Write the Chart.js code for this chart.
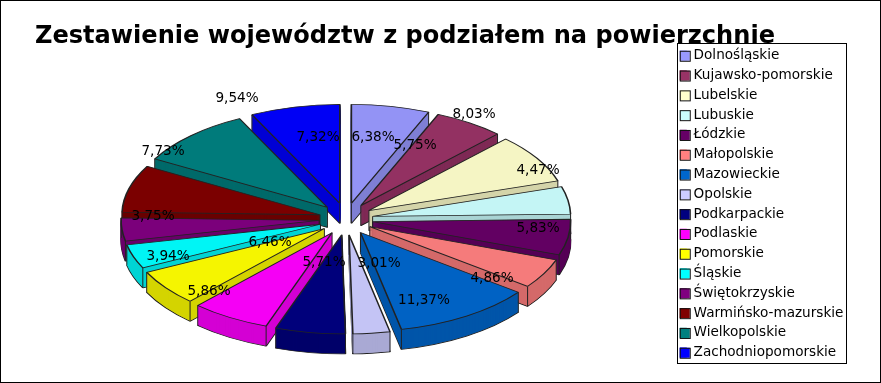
<!DOCTYPE html>
<html lang="pl">
<head>
<meta charset="utf-8">
<title>Zestawienie województw</title>
<script src="https://cdn.jsdelivr.net/npm/chart.js"></script>
<style>
    html, body { margin: 0; padding: 0; background: #fff; }
    #wrap { position: relative; width: 881px; height: 383px; }
    #wrap:after { content: ""; position: absolute; left: 0; top: 0; right: 0; bottom: 0; border: 1px solid #000; pointer-events: none; }
    canvas { display: block; }
</style>
</head>
<body>
<div id="wrap"><canvas id="chart" width="881" height="383"></canvas></div>
<script>
    const chartTitle = 'Zestawienie województw z podziałem na powierzchnie';
    const regions = ['Dolnośląskie', 'Kujawsko-pomorskie', 'Lubelskie', 'Lubuskie', 'Łódzkie', 'Małopolskie',
        'Mazowieckie', 'Opolskie', 'Podkarpackie', 'Podlaskie', 'Pomorskie', 'Śląskie', 'Świętokrzyskie',
        'Warmińsko-mazurskie', 'Wielkopolskie', 'Zachodniopomorskie'];
    const shares = [6.38, 5.75, 8.03, 4.47, 5.83, 4.86, 11.37, 3.01, 5.71, 6.46, 5.86, 3.94, 3.75, 7.73, 9.54, 7.32];
    const colours = ['#9999ff', '#993366', '#ffffcc', '#ccffff', '#660066', '#ff8080', '#0066cc', '#ccccff',
        '#000080', '#ff00ff', '#ffff00', '#00ffff', '#800080', '#800000', '#008080', '#0000ff'];

    // the original puts its labels in odd places, so they are placed by hand
    const labelSpots = [[373, 137], [415, 145], [474, 114], [538, 170], [538, 228], [492, 278], [424, 300], [379, 263],
        [324, 262], [270, 242], [209, 291], [168, 256], [153, 216], [163, 151], [237, 98], [318, 137]];

    const view = { cx: 346, cy: 219, squash: 0.5, depth: 20, explodeX: 27, explodeY: 32, top: 0.96, side: 0.83 };

    function shade(hex, f) {
        const n = parseInt(hex.slice(1), 16);
        return 'rgb(' + [n >> 16, (n >> 8) & 255, n & 255].map(c => Math.round(c * f)).join(',') + ')';
    }

    // squashed, exploded pie with side walls, painted back to front
    const pie3d = {
        id: 'pie3d',
        beforeDatasetsDraw(chart) {
            const ctx = chart.ctx;
            const arcs = chart.getDatasetMeta(0).data.map((arc, i) => ({ arc, i }));
            arcs.sort((a, b) => Math.sin((a.arc.startAngle + a.arc.endAngle) / 2) - Math.sin((b.arc.startAngle + b.arc.endAngle) / 2));

            arcs.forEach(({ arc, i }) => {
                const mid = (arc.startAngle + arc.endAngle) / 2;
                const dx = view.cx - arc.x + Math.cos(mid) * view.explodeX;
                const dy = Math.sin(mid) * view.explodeY;
                const base = arc.options;
                const paint = (lift, fill, edge, width) => {
                    ctx.save();
                    ctx.translate(dx, view.cy + lift);
                    ctx.scale(1, view.squash);
                    ctx.translate(0, dy - arc.y);
                    arc.options = { ...base, backgroundColor: fill, borderColor: edge, borderWidth: width };
                    arc.draw(ctx);
                    ctx.restore();
                };
                const wall = shade(colours[i], view.side);
                paint(view.depth, wall, '#222', 1.6);
                for (let d = view.depth - 1; d > 0; d--) paint(d, wall, wall, 1);

                // corner edges of the wall
                const sx = arc.x + dx, sy = view.cy + dy * view.squash;
                const corners = [[sx, sy],
                    [sx + Math.cos(arc.startAngle) * arc.outerRadius, sy + Math.sin(arc.startAngle) * arc.outerRadius * view.squash],
                    [sx + Math.cos(arc.endAngle) * arc.outerRadius, sy + Math.sin(arc.endAngle) * arc.outerRadius * view.squash]];
                ctx.save();
                ctx.strokeStyle = '#222';
                ctx.lineWidth = 1;
                corners.forEach(p => {
                    ctx.beginPath();
                    ctx.moveTo(p[0], p[1]);
                    ctx.lineTo(p[0], p[1] + view.depth);
                    ctx.stroke();
                });
                ctx.restore();

                paint(0, shade(colours[i], view.top), '#222', 1.6);
                arc.options = base;
            });

            ctx.save();
            ctx.fillStyle = '#000';
            ctx.font = '13.6px "DejaVu Sans"';
            ctx.textAlign = 'center';
            ctx.textBaseline = 'middle';
            shares.forEach((v, i) => {
                ctx.fillText(v.toFixed(2).replace('.', ',') + '%', labelSpots[i][0], labelSpots[i][1]);
            });
            ctx.restore();
            return false;
        },
        afterDraw(chart) {
            const ctx = chart.ctx, lg = chart.legend, boxes = lg.legendHitBoxes;
            ctx.save();
            ctx.strokeStyle = '#000';
            ctx.lineWidth = 1;
            ctx.strokeRect(677.5, 43.5, 169, 320);
            boxes.forEach((b, i) => {
                ctx.fillStyle = colours[i];
                ctx.fillRect(b.left, b.top + 2, 10, 10);
                ctx.strokeStyle = '#111';
                ctx.strokeRect(b.left + 0.5, b.top + 2.5, 10, 10);
            });
            ctx.restore();
        }
    };

    new Chart(document.getElementById('chart'), {
        type: 'pie',
        data: {
            labels: regions,
            datasets: [{ data: shares, backgroundColor: colours, borderWidth: 0 }]
        },
        options: {
            responsive: false,
            animation: false,
            radius: 198,
            layout: { padding: { left: 35, right: 27.6, top: 0, bottom: 0 } },
            plugins: {
                tooltip: { enabled: false },
                title: {
                    display: true,
                    text: chartTitle,
                    align: 'start',
                    color: '#000',
                    font: { family: '"DejaVu Sans"', size: 24.07, weight: 'bold', lineHeight: 1 },
                    padding: { top: 24.5, bottom: -6 }
                },
                legend: {
                    position: 'right',
                    align: 'start',
                    fullSize: false,
                    labels: {
                        color: '#000',
                        font: { family: '"DejaVu Sans"', size: 13.6 },
                        boxWidth: 7,
                        boxHeight: 10,
                        padding: 6.2
                    }
                }
            }
        },
        plugins: [pie3d]
    });
</script>
</body>
</html>
